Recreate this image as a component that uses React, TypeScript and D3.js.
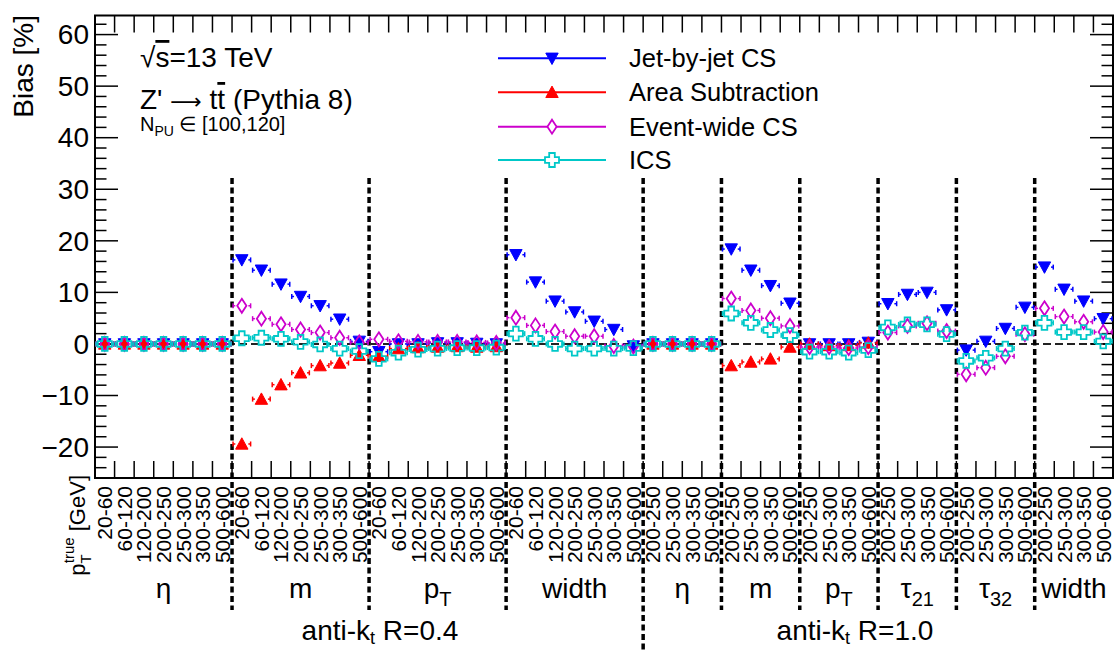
import React, { useEffect, useRef } from "react";
import * as d3 from "d3";

// pT^true bins used for each observable
const ptBinsR04 = ["20-60", "60-120", "120-200", "200-250", "250-300", "300-350", "500-600"];
const ptBinsR10 = ["200-250", "250-300", "300-350", "500-600"];

// observables: [main text, subscript]
const groupsR04 = [["η", ""], ["m", ""], ["p", "T"], ["width", ""]];
const groupsR10 = [["η", ""], ["m", ""], ["p", "T"], ["τ", "21"], ["τ", "32"], ["width", ""]];

// bias [%] per observable group (R=0.4: eta, m, pT, width | R=1.0: eta, m, pT, tau21, tau32, width)
const jetByJetCS = [
  [0, 0, 0, 0, 0, 0, 0],
  [16.3, 14.3, 11.6, 9.2, 7.4, 4.8, 0.5],
  [-1.5, 0.0, 0.0, 0.2, 0.2, 0.1, 0.0],
  [17.3, 12.0, 8.3, 6.2, 4.4, 2.8, -0.4],
  [0, 0, 0, 0],
  [18.4, 14.3, 11.3, 7.9],
  [0.0, 0.0, 0.0, 0.3],
  [7.8, 9.6, 10.0, 6.6],
  [-1.2, 0.5, 3.0, 7.1],
  [14.9, 10.6, 8.3, 4.9],
];
const areaSubtraction = [
  [0, 0, 0, 0, 0, 0, 0],
  [-19.4, -10.7, -7.9, -5.6, -4.2, -3.7, -2.2],
  [-2.4, -0.9, -0.7, -0.6, -0.5, -0.6, -0.5],
  [null, null, null, null, null, null, null],
  [0, 0, 0, 0],
  [-4.2, -3.5, -2.9, -0.6],
  [0.0, -0.3, -0.3, 0.2],
  [null, null, null, null],
  [null, null, null, null],
  [null, null, null, null],
];
const eventWideCS = [
  [0, 0, 0, 0, 0, 0, 0],
  [7.4, 4.9, 3.8, 2.8, 2.2, 1.2, 0.3],
  [0.9, 0.5, 0.4, 0.4, 0.4, 0.3, 0.2],
  [5.1, 3.6, 2.4, 1.5, 1.5, -0.4, -0.5],
  [0, 0, 0, 0],
  [8.8, 6.5, 5.0, 3.5],
  [-0.6, -0.6, -0.8, -0.6],
  [2.2, 3.5, 4.0, 2.5],
  [-5.9, -4.6, -2.4, 1.9],
  [6.9, 5.3, 4.3, 2.3],
];
const ics = [
  [0, 0, 0, 0, 0, 0, 0],
  [1.1, 1.2, 1.0, 0.4, -0.1, -0.9, -1.4],
  [-2.9, -1.7, -1.1, -0.9, -0.8, -0.8, -0.7],
  [2.0, 1.0, 0.0, -0.9, -0.9, -0.9, -0.8],
  [0, 0, 0, 0],
  [5.9, 4.1, 2.7, 1.7],
  [-1.5, -1.5, -1.7, -1.2],
  [3.2, 3.8, 3.8, 1.9],
  [-3.3, -2.7, -0.9, 2.2],
  [4.1, 2.3, 2.3, 0.5],
];

const seriesNames = ["Jet-by-jet CS", "Area Subtraction", "Event-wide CS", "ICS"];

const FONT = "'Liberation Sans', Arial, Helvetica, sans-serif";

const markerPath = (k: number) => {
  if (k === 0) return "M-6.2,-5.2L6.2,-5.2L0,6.2Z";
  if (k === 1) return "M-6.2,5.2L6.2,5.2L0,-6.2Z";
  if (k === 2) return "M0,-7L4.6,0L0,7L-4.6,0Z";
  const a = 2.8, L = 7;
  return `M${-a},${-L}H${a}V${-a}H${L}V${a}H${a}V${L}H${-a}V${a}H${-L}V${-a}H${-a}Z`;
};

const App = () => {
  const ref = useRef<SVGSVGElement>(null);

  useEffect(() => {
    const svg = d3.select(ref.current);
    svg.selectAll("*").remove();

    const width = 1117;
    const height = 650;
    const x0 = 95, x1 = 1113, y0 = 15.5, y1 = 478;

    // bins: label and group index
    const bins: { label: string; group: number }[] = [];
    groupsR04.forEach((_, g) => ptBinsR04.forEach((b) => bins.push({ label: b, group: g })));
    groupsR10.forEach((_, g) => ptBinsR10.forEach((b) => bins.push({ label: b, group: groupsR04.length + g })));
    const nBins = bins.length;
    const allGroups = [...groupsR04, ...groupsR10];

    const x = d3.scaleLinear().domain([0, nBins]).range([x0, x1]);
    const y = d3.scaleLinear().domain([-26, 63.7]).range([y1, y0]);

    const colors = ["#0000ff", "#ff0000", "#cc00cc", "#00c8c8"];
    const filled = [true, true, false, false];
    const data = [jetByJetCS, areaSubtraction, eventWideCS, ics].map((s) => s.flat());

    svg.attr("width", width).attr("height", height);

    // group boundaries (bin index where a new group starts)
    const boundaries: number[] = [];
    for (let i = 1; i < nBins; i++) if (bins[i].group !== bins[i - 1].group) boundaries.push(i);
    const rBoundary = groupsR04.length * ptBinsR04.length;

    // zero line
    svg.append("line")
      .attr("x1", x0).attr("x2", x1).attr("y1", y(0)).attr("y2", y(0))
      .attr("stroke", "#222").attr("stroke-width", 2).attr("stroke-dasharray", "8,4");

    // x ticks
    const xt = svg.append("g").attr("stroke", "black").attr("stroke-width", 1.5);
    d3.range(1, nBins).forEach((i) => {
      xt.append("line").attr("x1", x(i)).attr("x2", x(i)).attr("y1", y1).attr("y2", y1 - 17);
      xt.append("line").attr("x1", x(i)).attr("x2", x(i)).attr("y1", y0).attr("y2", y0 + 17);
    });

    // y ticks
    const yt = svg.append("g").attr("stroke", "black").attr("stroke-width", 1.5);
    d3.range(-26, 63.7, 2).forEach((v) => {
      const major = v % 10 === 0;
      const len = major ? 23 : 11.5;
      yt.append("line").attr("x1", x0).attr("x2", x0 + len).attr("y1", y(v)).attr("y2", y(v));
      yt.append("line").attr("x1", x1).attr("x2", x1 - len).attr("y1", y(v)).attr("y2", y(v));
    });
    svg.append("g").selectAll("text")
      .data(d3.range(-20, 61, 10))
      .enter().append("text")
      .attr("x", 89).attr("y", (d) => y(d)).attr("dy", "0.35em")
      .attr("text-anchor", "end")
      .style("font-family", FONT).style("font-size", "28px")
      .text((d) => (d < 0 ? "\u2212" + Math.abs(d) : String(d)));

    // frame
    svg.append("rect")
      .attr("x", x0).attr("y", y0).attr("width", x1 - x0).attr("height", y1 - y0)
      .attr("fill", "none").attr("stroke", "black").attr("stroke-width", 2);

    // vertical dashed separators
    svg.append("g").selectAll("line")
      .data(boundaries).enter().append("line")
      .attr("x1", (d) => x(d)).attr("x2", (d) => x(d))
      .attr("y1", 178).attr("y2", (d) => (d === rBoundary ? 650 : 610))
      .attr("stroke", "black").attr("stroke-width", 3.5).attr("stroke-dasharray", "6,3.5");

    // error bars + markers
    data.forEach((vals, k) => {
      const g = svg.append("g");
      vals.forEach((v, i) => {
        if (v === null) return;
        const cx = x(i + 0.5), cy = y(v as number);
        const xl = x(i) + 1, xr = x(i + 1) - 1, gap = 6.5;
        const c = colors[k];
        g.append("line").attr("x1", xl).attr("x2", cx - gap).attr("y1", cy).attr("y2", cy)
          .attr("stroke", c).attr("stroke-width", 1.5);
        g.append("line").attr("x1", cx + gap).attr("x2", xr).attr("y1", cy).attr("y2", cy)
          .attr("stroke", c).attr("stroke-width", 1.5);
        [xl, xr].forEach((xx) => g.append("line").attr("x1", xx).attr("x2", xx)
          .attr("y1", cy - 2.5).attr("y2", cy + 2.5).attr("stroke", c).attr("stroke-width", 1.5));
        g.append("path").attr("d", markerPath(k))
          .attr("transform", `translate(${cx},${cy})`)
          .attr("fill", filled[k] ? c : "none")
          .attr("stroke", c).attr("stroke-width", filled[k] ? 1 : 1.8);
      });
    });

    // legend
    const rows = [58.3, 92.3, 126.7, 160];
    seriesNames.forEach((name, k) => {
      const g = svg.append("g").attr("transform", `translate(0,${rows[k]})`);
      g.append("line").attr("x1", 498).attr("x2", 606).attr("stroke", colors[k]).attr("stroke-width", 2);
      g.append("path").attr("d", markerPath(k)).attr("transform", "translate(552,0)")
        .attr("fill", filled[k] ? colors[k] : "white").attr("stroke", colors[k])
        .attr("stroke-width", filled[k] ? 1 : 1.8);
      g.append("text").attr("x", 629).attr("dy", "0.35em")
        .style("font-family", FONT).style("font-size", "25.5px").text(name);
    });

    // y title
    svg.append("text")
      .attr("transform", "translate(33,15) rotate(-90)")
      .attr("text-anchor", "end")
      .style("font-family", FONT).style("font-size", "28px")
      .text("Bias [%]");

    // bin labels
    svg.append("g").selectAll("text")
      .data(bins).enter().append("text")
      .attr("transform", (_, i) => `translate(${x(i + 0.5) + 7.5},486) rotate(-90)`)
      .attr("text-anchor", "end")
      .style("font-family", FONT).style("font-size", "21px")
      .text((d) => d.label);

    // pT^true [GeV] title
    const pt = svg.append("text")
      .attr("transform", "translate(85,475) rotate(-90)")
      .attr("text-anchor", "end")
      .style("font-family", FONT).style("font-size", "22px");
    pt.append("tspan").text("p");
    pt.append("tspan").attr("dy", 6).style("font-size", "15px").text("T");
    pt.append("tspan").attr("dx", -9).attr("dy", -17).style("font-size", "15px").text("true");
    pt.append("tspan").attr("dy", 11).text(" [GeV]");

    // observable labels
    allGroups.forEach((gr, g) => {
      const idx = bins.map((b, i) => (b.group === g ? i : -1)).filter((i) => i >= 0);
      const cx = x((idx[0] + idx[idx.length - 1] + 1) / 2);
      const t = svg.append("text").attr("x", cx).attr("y", 598).attr("text-anchor", "middle")
        .style("font-family", FONT).style("font-size", "28px");
      t.append("tspan").text(gr[0]);
      if (gr[1]) t.append("tspan").attr("dy", 8).style("font-size", "20px").text(gr[1]);
    });

    // jet collection labels
    [["0.4", 380], ["1.0", 855]].forEach(([r, cx]) => {
      const t = svg.append("text").attr("x", cx as number).attr("y", 640).attr("text-anchor", "middle")
        .style("font-family", FONT).style("font-size", "28px");
      t.append("tspan").text("anti-k");
      t.append("tspan").attr("dy", 4).style("font-size", "18px").text("t");
      t.append("tspan").attr("dy", -4).text(` R=${r}`);
    });

    // physics text
    const t1 = svg.append("text").attr("x", 140).attr("y", 67)
      .style("font-family", FONT).style("font-size", "28px");
    t1.append("tspan").text("√");
    t1.append("tspan").style("text-decoration", "overline").text("s");
    t1.append("tspan").text("=13 TeV");

    const t2 = svg.append("text").attr("x", 140).attr("y", 109)
      .style("font-family", FONT).style("font-size", "28px");
    t2.append("tspan").text("Z' ");
    t2.append("tspan").style("font-family", "'DejaVu Sans'").style("font-size", "22px").text("⟶");
    t2.append("tspan").text(" t");
    t2.append("tspan").style("text-decoration", "overline").text("t");
    t2.append("tspan").text(" (Pythia 8)");

    const t3 = svg.append("text").attr("x", 140).attr("y", 131)
      .style("font-family", FONT).style("font-size", "20px");
    t3.append("tspan").text("N");
    t3.append("tspan").attr("dy", 5).style("font-size", "14px").text("PU");
    t3.append("tspan").attr("dy", -5).text(" ∈ [100,120]");
  }, []);

  return <svg ref={ref} style={{ position: "absolute", left: 0, top: 0, display: "block" }}></svg>;
};

export default App;
